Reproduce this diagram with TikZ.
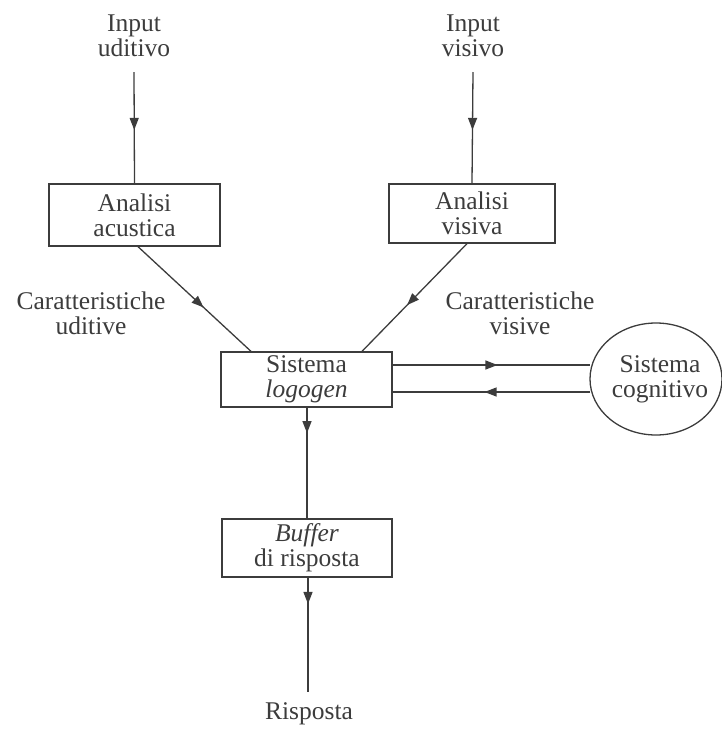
\documentclass[tikz,border=0pt]{standalone}
\usepackage{fontspec}
\setmainfont{Liberation Serif}
\usetikzlibrary{arrows.meta,decorations.markings,calc,shapes.geometric}
\definecolor{ink}{HTML}{3C3C3C}
\begin{document}
\begin{tikzpicture}[x=1pt,y=-1pt,
  every node/.style={text=ink, font=\fontsize{25.5}{25}\selectfont},
  lbl/.style={align=center, inner sep=0pt},
  boxnode/.style={draw=ink, line width=1.3pt, align=center, inner sep=0pt},
  link/.style={draw=ink, line width=1.3pt},
  midarrow/.style={link, postaction={decorate},
    decoration={markings, mark=at position #1 with {\arrow{Triangle[length=12pt,width=9pt]}}}},
  midarrow/.default=0.5,
]
\useasboundingbox (0,0) rectangle (722,729);

% sources
\node[lbl] (inA) at (134,36) {Input\\uditivo};
\node[lbl] (inV) at (473,36) {Input\\visivo};
\coordinate (inAtail) at (134,72);
\coordinate (inVtail) at (473,72);

% processing boxes
\node[boxnode, minimum width=171pt, minimum height=62pt] (acu) at (134.5,215) {Analisi\\acustica};
\node[boxnode, minimum width=166pt, minimum height=59pt] (vis) at (472,213.5) {Analisi\\visiva};
\node[boxnode, minimum width=171pt, minimum height=55pt] (logo) at (306.5,379.5) {Sistema\\\textit{logogen}};
\node[boxnode, minimum width=170pt, minimum height=58pt] (buf) at (307,548) {\textit{Buffer}\\di risposta};

% cognitive system
\node[draw=ink, line width=1.3pt, ellipse, minimum width=132pt, minimum height=112pt, inner sep=0pt] (cog) at (656,379) {};
\node[lbl] (cogtxt) at (660,379) {Sistema\\cognitivo};

% feature labels and output
\node[lbl] (carU) at (91,313) {Caratteristiche\\uditive};
\node[lbl] (carV) at (520,313) {Caratteristiche\\visive};
\node[lbl] (risp) at (309,714) {Risposta};
\coordinate (risptail) at (308,692);

% connectors
\draw[midarrow=0.52] (inAtail) -- (acu.north);
\draw[midarrow=0.52] (inVtail) -- (vis.north);
\draw[midarrow=0.58] ($(acu.south)+(3.5,0)$) -- ($(logo.north)+(-55.5,0)$);
\draw[midarrow=0.57] ($(vis.south)+(-5,0)$) -- ($(logo.north)+(55.5,0)$);

\coordinate (t1) at ($(logo.east)+(0,-14.5)$);
\coordinate (b1) at ($(logo.east)+(0,12.5)$);
\draw[midarrow=0.53] (t1) -- ([xshift=1pt]t1 -| cog.west);
\draw[midarrow=0.535] ([xshift=1pt]b1 -| cog.west) -- (b1);

\draw[midarrow=0.23] ($(logo.south)+(0.5,0)$) -- (buf.south |- buf.north);
\draw[midarrow=0.23] ($(buf.south)+(1,0)$) -- (risptail);
\end{tikzpicture}
\end{document}
